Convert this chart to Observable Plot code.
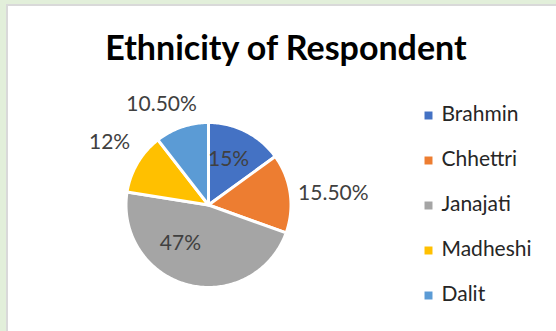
<!DOCTYPE html>
<html>
<head>
<meta charset="utf-8">
<script src="https://cdn.jsdelivr.net/npm/d3@7"></script>
<script src="https://cdn.jsdelivr.net/npm/@observablehq/plot@0.6"></script>
<style>
  html, body { margin: 0; padding: 0; background: #e2efda; }
  #wrap { position: relative; width: 556px; height: 331px; overflow: hidden; background: #e2efda; }
  #panel { position: absolute; left: 6px; top: 4px; width: 560px; height: 340px; background: #fff;
           border-left: 2px solid #d9d9d9; border-top: 2px solid #d9d9d9; }
  #main, #legend { position: absolute; top: 0; }
  #main { left: 0; }
  #legend { left: 400px; }
  svg { overflow: visible; }
</style>
</head>
<body>
<div id="wrap"><div id="panel"></div><div id="main"></div><div id="legend"></div></div>
<script>
const title = "Ethnicity of Respondent";
const categories = ["Brahmin", "Chhettri", "Janajati", "Madheshi", "Dalit"];
const shares = [15, 15.5, 47, 12, 10.5];
const labels = ["15%", "15.50%", "47%", "12%", "10.50%"];
const colors = ["#4472C4", "#ED7D31", "#A5A5A5", "#FFC000", "#5B9BD5"];
// label placement (best-fit style): radial factor and angular shift in degrees
const labelRadius = [0.61, 1.52, 0.58, 1.42, 1.35];
const labelShift = [-3.5, 2.8, 21.6, 1.8, -6];

const FONT = "Lato, 'Open Sans', sans-serif";

const arcs = d3.pie().sort(null).value(d => d)(shares);
const slicePts = [];
arcs.forEach((a, i) => {
  const cat = categories[i];
  slicePts.push({cat, x: 0, y: 0});
  const n = Math.max(2, Math.ceil((a.endAngle - a.startAngle) / (Math.PI / 180)));
  for (let k = 0; k <= n; k++) {
    const t = a.startAngle + (a.endAngle - a.startAngle) * k / n;
    slicePts.push({cat, x: Math.sin(t), y: Math.cos(t)});
  }
});
const labelPts = arcs.map((a, i) => {
  const t = (a.startAngle + a.endAngle) / 2 + labelShift[i] * Math.PI / 180;
  return {label: labels[i], x: labelRadius[i] * Math.sin(t), y: labelRadius[i] * Math.cos(t)};
});

const cx = 208, cy = 204.5, R = 82.5;
const main = Plot.plot({
  width: 556, height: 331, margin: 0,
  style: {background: "transparent", overflow: "visible"},
  x: {domain: [-1, 1], range: [cx - R, cx + R], axis: null},
  y: {domain: [-1, 1], range: [cy + R, cy - R], axis: null},
  color: {domain: categories, range: colors},
  marks: [
    Plot.line(slicePts, {x: "x", y: "y", z: "cat", fill: "cat", stroke: "white", strokeWidth: 3,
      strokeLinejoin: "round", curve: "linear-closed"}),
    Plot.text(labelPts, {x: "x", y: "y", text: "label", fill: "#404040", fontSize: 21,
      fontFamily: FONT, textAnchor: "middle", lineAnchor: "middle"}),
    Plot.text([title], {frameAnchor: "top", dx: 7.5, dy: 49, lineAnchor: "middle", fontSize: 34,
      fontWeight: "bold", fontFamily: FONT, fill: "#000"})
  ]
});
document.getElementById("main").appendChild(main);

const legend = Plot.plot({
  width: 156, height: 331, margin: 0,
  style: {background: "transparent", overflow: "visible"},
  x: {domain: [0, 1], range: [28, 128], axis: null},
  y: {type: "point", domain: categories, range: [115, 295], padding: 0, axis: null},
  color: {domain: categories, range: colors},
  marks: [
    Plot.dot(categories, {x: () => 0, y: d => d, fill: d => d, symbol: "square", r: 4.5, stroke: null}),
    Plot.text(categories, {x: () => 0, y: d => d, text: d => d, dx: 13, dy: -1, textAnchor: "start",
      lineAnchor: "middle", fontSize: 21, fontFamily: FONT, fill: "#262626"})
  ]
});
document.getElementById("legend").appendChild(legend);
</script>
</body>
</html>
